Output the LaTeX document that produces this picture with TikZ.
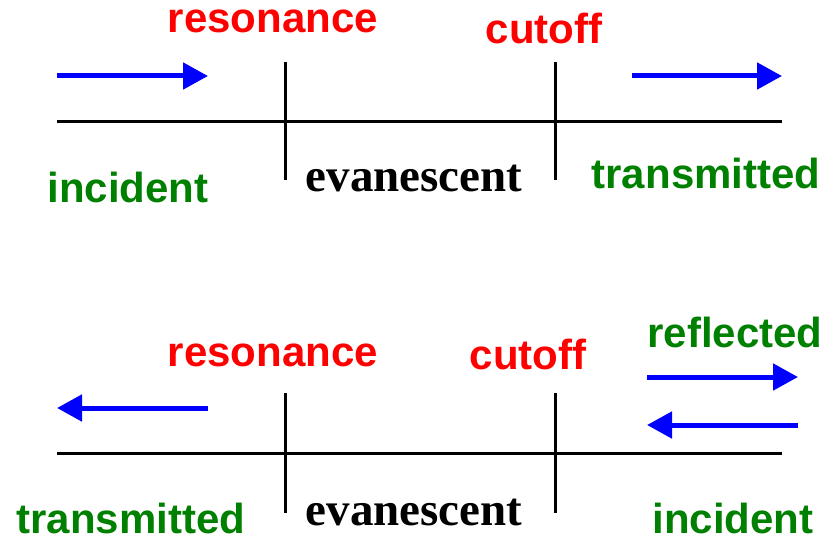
\documentclass[tikz,border=0pt]{standalone}
\usepackage{fontspec}
\setmainfont{Liberation Sans}
\newfontfamily\serifbold{Liberation Serif}
\usetikzlibrary{arrows.meta}
\definecolor{wavegreen}{RGB}{0,128,0}
\tikzset{
  axisline/.style={line width=1.5pt, black},
  tickline/.style={line width=1.5pt, black},
  wave/.style={line width=2.5pt, blue, -{Triangle[length=12.5pt,width=13pt]}, shorten >=0pt},
  marklabel/.style={anchor=base, inner sep=0pt, text depth=0pt, text=red, font=\fontsize{21}{25}\selectfont\bfseries},
  wavelabel/.style={anchor=base, inner sep=0pt, text depth=0pt, text=wavegreen, font=\fontsize{21}{25}\selectfont\bfseries},
  regionlabel/.style={anchor=base, inner sep=0pt, text depth=0pt, text=black, font=\fontsize{23.5}{28}\selectfont\serifbold\bfseries},
}
\begin{document}
\begin{tikzpicture}[x=0.5pt, y=-0.5pt]
\useasboundingbox (0,0) rectangle (838,540);

% ---------- upper panel: wave coming from the left ----------
\coordinate (a1L) at (57,121);   \coordinate (a1R) at (782,121);
\coordinate (r1T) at (285,62);   \coordinate (r1B) at (285,180);
\coordinate (c1T) at (555,62);   \coordinate (c1B) at (555,180);
\coordinate (inc1s) at (57,76);  \coordinate (inc1e) at (208,76);
\coordinate (tr1s) at (632,76);  \coordinate (tr1e) at (782,76);

\draw[axisline] (a1L) -- (a1R);
\draw[tickline] (r1T) -- (r1B);
\draw[tickline] (c1T) -- (c1B);
\draw[wave] (inc1s) -- (inc1e);
\draw[wave] (tr1s) -- (tr1e);

\node[marklabel] (res1) at (273,33) {resonance};
\node[marklabel] (cut1) at (544,44) {cutoff};
\node[wavelabel] (inc1) at (128,202) {incident};
\node[regionlabel] (eva1) at (414,191) {evanescent};
\node[wavelabel] (tra1) at (706,188) {transmitted};

% ---------- lower panel: wave coming from the right ----------
\coordinate (a2L) at (57,453);   \coordinate (a2R) at (782,453);
\coordinate (r2T) at (285,393);  \coordinate (r2B) at (285,513);
\coordinate (c2T) at (555,393);  \coordinate (c2B) at (555,513);
\coordinate (tr2s) at (208,408); \coordinate (tr2e) at (57,408);
\coordinate (ref2s) at (647,377); \coordinate (ref2e) at (798,377);
\coordinate (inc2s) at (798,425); \coordinate (inc2e) at (647,425);

\draw[axisline] (a2L) -- (a2R);
\draw[tickline] (r2T) -- (r2B);
\draw[tickline] (c2T) -- (c2B);
\draw[wave] (tr2s) -- (tr2e);
\draw[wave] (ref2s) -- (ref2e);
\draw[wave] (inc2s) -- (inc2e);

\node[marklabel] (res2) at (273,366) {resonance};
\node[marklabel] (cut2) at (528,369) {cutoff};
\node[wavelabel] (ref2) at (735,347) {reflected};
\node[wavelabel] (tra2) at (131,533) {transmitted};
\node[regionlabel] (eva2) at (414,525) {evanescent};
\node[wavelabel] (inc2) at (733,533) {incident};
\end{tikzpicture}
\end{document}
